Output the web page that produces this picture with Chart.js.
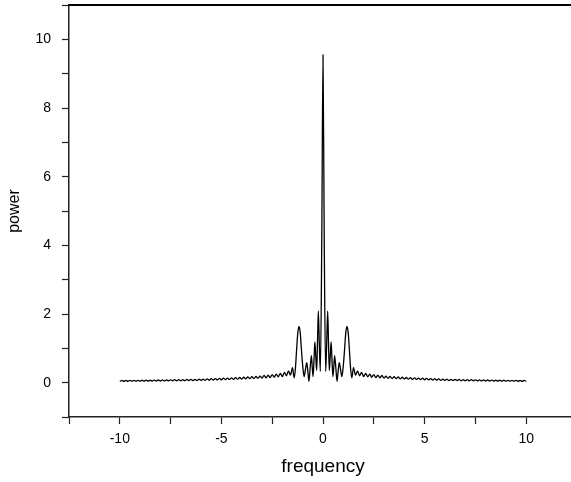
<!DOCTYPE html>
<html>
<head>
<meta charset="utf-8">
<script src="https://cdn.jsdelivr.net/npm/chart.js@4/dist/chart.umd.min.js"></script>
<style>
  html, body { margin: 0; padding: 0; background: #fff; overflow: hidden; }
  #wrap { width: 584px; height: 482px; }
</style>
</head>
<body>
<div id="wrap"><canvas id="spec" width="584" height="482"></canvas></div>
<script>
// power spectrum: left tail, centre, right tail
var tailLeftFreq = [
  -10.0, -9.9, -9.8, -9.7, -9.6, -9.5, -9.4, -9.3, -9.2, -9.1,
  -9.0, -8.9, -8.8, -8.7, -8.6, -8.5, -8.4, -8.3, -8.2, -8.1,
  -8.0, -7.9, -7.8, -7.7, -7.6, -7.5, -7.4, -7.3, -7.2, -7.1,
  -7.0, -6.9, -6.8, -6.7, -6.6, -6.5, -6.4, -6.3, -6.2, -6.1,
  -6.0, -5.9, -5.8, -5.7, -5.6, -5.5, -5.4, -5.3, -5.2, -5.1,
  -5.0, -4.9, -4.8, -4.7, -4.6, -4.5, -4.4, -4.3, -4.2, -4.1,
  -4.0, -3.9, -3.8, -3.7, -3.6, -3.5, -3.4, -3.3, -3.2, -3.1,
  -3.0, -2.9, -2.8, -2.7, -2.6, -2.5, -2.4, -2.3, -2.2, -2.1,
  -2.0, -1.9, -1.8, -1.7, -1.6, -1.5
];
var tailLeftPower = [
  0.04, 0.065, 0.04, 0.066, 0.041, 0.067, 0.042, 0.068, 0.043, 0.069,
  0.044, 0.07, 0.045, 0.072, 0.046, 0.074, 0.047, 0.076, 0.048, 0.078,
  0.049, 0.08, 0.05, 0.082, 0.051, 0.084, 0.052, 0.086, 0.053, 0.088,
  0.054, 0.09, 0.056, 0.092, 0.058, 0.094, 0.06, 0.097, 0.062, 0.1,
  0.064, 0.105, 0.068, 0.11, 0.072, 0.115, 0.076, 0.12, 0.08, 0.125,
  0.085, 0.13, 0.09, 0.135, 0.094, 0.14, 0.098, 0.145, 0.102, 0.15,
  0.106, 0.158, 0.11, 0.165, 0.115, 0.172, 0.12, 0.18, 0.126, 0.19,
  0.132, 0.21, 0.14, 0.22, 0.15, 0.235, 0.16, 0.25, 0.17, 0.27,
  0.18, 0.3, 0.2, 0.34, 0.22, 0.44
];
var centreFreq = [
  -1.42, -1.36, -1.3, -1.24, -1.18, -1.12, -1.06, -1.0, -0.93, -0.86,
  -0.8, -0.74, -0.69, -0.63, -0.57, -0.53, -0.49, -0.44, -0.4, -0.35,
  -0.31, -0.27, -0.23, -0.18, -0.13, -0.06, 0,
  0.06, 0.13, 0.18, 0.23, 0.27, 0.31, 0.35, 0.4, 0.44, 0.49,
  0.53, 0.57, 0.63, 0.69, 0.74, 0.8, 0.86, 0.93, 1.0, 1.06,
  1.12, 1.18, 1.24, 1.3, 1.36, 1.42
];
var centrePower = [
  0.14, 0.4, 0.95, 1.45, 1.64, 1.45, 0.95, 0.5, 0.18, 0.4,
  0.58, 0.3, 0.04, 0.45, 0.79, 0.45, 0.18, 0.7, 1.19, 0.7,
  0.36, 1.2, 2.08, 1.1, 0.33, 4.2, 9.55,
  4.2, 0.33, 1.1, 2.08, 1.2, 0.36, 0.7, 1.19, 0.7, 0.18,
  0.45, 0.79, 0.45, 0.04, 0.3, 0.58, 0.4, 0.18, 0.5, 0.95,
  1.45, 1.64, 1.45, 0.95, 0.4, 0.14
];
var tailRightFreq = [
  1.5, 1.6, 1.7, 1.8, 1.9, 2.0, 2.1, 2.2, 2.3, 2.4,
  2.5, 2.6, 2.7, 2.8, 2.9, 3.0, 3.1, 3.2, 3.3, 3.4,
  3.5, 3.6, 3.7, 3.8, 3.9, 4.0, 4.1, 4.2, 4.3, 4.4,
  4.5, 4.6, 4.7, 4.8, 4.9, 5.0, 5.1, 5.2, 5.3, 5.4,
  5.5, 5.6, 5.7, 5.8, 5.9, 6.0, 6.1, 6.2, 6.3, 6.4,
  6.5, 6.6, 6.7, 6.8, 6.9, 7.0, 7.1, 7.2, 7.3, 7.4,
  7.5, 7.6, 7.7, 7.8, 7.9, 8.0, 8.1, 8.2, 8.3, 8.4,
  8.5, 8.6, 8.7, 8.8, 8.9, 9.0, 9.1, 9.2, 9.3, 9.4,
  9.5, 9.6, 9.7, 9.8, 9.9, 10.0
];
var tailRightPower = [
  0.44, 0.22, 0.34, 0.2, 0.3, 0.18, 0.27, 0.17, 0.25, 0.16,
  0.235, 0.15, 0.22, 0.14, 0.21, 0.132, 0.19, 0.126, 0.18, 0.12,
  0.172, 0.115, 0.165, 0.11, 0.158, 0.106, 0.15, 0.102, 0.145, 0.098,
  0.14, 0.094, 0.135, 0.09, 0.13, 0.085, 0.125, 0.08, 0.12, 0.076,
  0.115, 0.072, 0.11, 0.068, 0.105, 0.064, 0.1, 0.062, 0.097, 0.06,
  0.094, 0.058, 0.092, 0.056, 0.09, 0.054, 0.088, 0.053, 0.086, 0.052,
  0.084, 0.051, 0.082, 0.05, 0.08, 0.049, 0.078, 0.048, 0.076, 0.047,
  0.074, 0.046, 0.072, 0.045, 0.07, 0.044, 0.069, 0.043, 0.068, 0.042,
  0.067, 0.041, 0.066, 0.04, 0.065, 0.04
];

var freq = tailLeftFreq.concat(centreFreq, tailRightFreq);
var power = tailLeftPower.concat(centrePower, tailRightPower);
var points = freq.map(function(f, i) { return { x: f, y: power[i] }; });

// line along the top of the frame
var topLine = {
  id: 'topLine',
  afterDraw: function(chart) {
    var ctx = chart.ctx, a = chart.chartArea;
    ctx.save();
    ctx.strokeStyle = '#000';
    ctx.lineWidth = 2;
    ctx.beginPath();
    ctx.moveTo(a.left - 1, a.top);
    ctx.lineTo(chart.width, a.top);
    ctx.stroke();
    ctx.restore();
  }
};

var ctx = document.getElementById('spec').getContext('2d');
var chart = new Chart(ctx, {
  type: 'line',
  data: {
    datasets: [{
      data: points,
      borderColor: '#000',
      borderWidth: 1.3,
      pointRadius: 0,
      fill: false,
      cubicInterpolationMode: 'monotone'
    }]
  },
  options: {
    responsive: false,
    animation: false,
    layout: { padding: { top: 5, right: 0, left: 0, bottom: 0 } },
    plugins: { legend: { display: false }, tooltip: { enabled: false } },
    scales: {
      x: {
        type: 'linear',
        min: -12.5,
        max: 12.5,
        afterFit: function(s) { s.height = 65; },
        afterBuildTicks: function(s) {
          var t = [];
          for (var v = -12.5; v <= 12.5; v += 2.5) t.push({ value: v });
          s.ticks = t;
        },
        border: { display: true, color: '#222', width: 1.5 },
        grid: { display: true, drawOnChartArea: false, drawTicks: true, tickLength: 7, tickColor: '#222', tickWidth: 1.2 },
        ticks: {
          color: '#000',
          padding: 7,
          maxRotation: 0,
          autoSkip: false,
          font: { family: 'Liberation Sans, Arial, sans-serif', size: 14 },
          callback: function(v) { return (v % 5 === 0) ? String(v) : ''; }
        },
        title: { display: true, text: 'frequency', color: '#000', padding: { top: 0, bottom: 4 },
                 font: { family: 'Liberation Sans, Arial, sans-serif', size: 19 } }
      },
      y: {
        min: -1,
        max: 11,
        afterFit: function(s) { s.width = 69; s.paddingTop = 0; s.paddingBottom = 0; },
        border: { display: true, color: '#222', width: 1.5 },
        grid: { display: true, drawOnChartArea: false, drawTicks: true, tickLength: 7, tickColor: '#222', tickWidth: 1.2 },
        ticks: {
          stepSize: 1,
          color: '#000',
          padding: 11,
          autoSkip: false,
          font: { family: 'Liberation Sans, Arial, sans-serif', size: 14 },
          callback: function(v) { return (v >= 0 && v % 2 === 0) ? String(v) : ''; }
        },
        title: { display: true, text: 'power', color: '#000', padding: { top: 5, bottom: 0 },
                 font: { family: 'Liberation Sans, Arial, sans-serif', size: 16 } }
      }
    }
  },
  plugins: [topLine]
});
</script>
</body>
</html>
